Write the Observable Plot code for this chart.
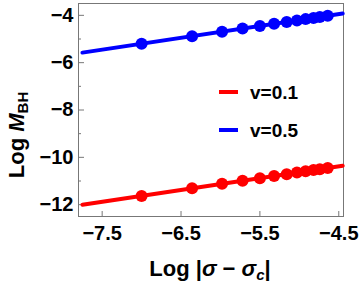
<!DOCTYPE html>
<html>
<head>
<meta charset="utf-8">
<script src="https://cdn.jsdelivr.net/npm/d3@7"></script>
<script src="https://cdn.jsdelivr.net/npm/@observablehq/plot@0.6"></script>
<style>
  html, body { margin: 0; padding: 0; background: #fff; }
  svg { font-family: "Liberation Sans", Arial, sans-serif; }
</style>
</head>
<body>
<div id="chart"></div>
<script>
// Data
const xVals = [-7.0, -6.36, -5.98, -5.72, -5.50, -5.32, -5.16, -5.03, -4.92, -4.82, -4.74, -4.64];
const yV01 = [-11.63, -11.31, -11.12, -10.99, -10.88, -10.79, -10.71, -10.645, -10.59, -10.54, -10.50, -10.45];
const yV05 = [-5.20, -4.88, -4.69, -4.56, -4.45, -4.36, -4.28, -4.215, -4.16, -4.11, -4.07, -4.02];
const fitX = [-7.75, -4.45];
const fitV01 = [-12.005, -10.355];
const fitV05 = [-5.575, -3.925];
const seriesNames = ["v=0.1", "v=0.5"];
const seriesColors = ["#ff0000", "#0000ff"];
const xTicks = [-7.5, -6.5, -5.5, -4.5];
const yTicks = [-12, -10, -8, -6, -4];
const yMinorTicks = [-11, -9, -7, -5];

const points = [
  ...xVals.map((x, i) => ({x, y: yV01[i], s: seriesNames[0]})),
  ...xVals.map((x, i) => ({x, y: yV05[i], s: seriesNames[1]}))
];
const fits = [
  ...fitX.map((x, i) => ({x, y: fitV01[i], s: seriesNames[0]})),
  ...fitX.map((x, i) => ({x, y: fitV05[i], s: seriesNames[1]}))
];

const fmt = d => (d < 0 ? "\u2212" : "") + Math.abs(d);

const chart = Plot.plot({
  width: 360,
  height: 285,
  marginLeft: 78,
  marginRight: 17,
  marginTop: 3,
  marginBottom: 69,
  style: {fontFamily: "'Liberation Sans', Arial, sans-serif", background: "#fff"},
  x: {domain: [-7.8, -4.44]},
  y: {domain: [-12.5, -3.5]},
  color: {domain: seriesNames, range: seriesColors},
  marks: [
    Plot.frame({stroke: "#777", strokeWidth: 1}),
    Plot.axisX({ticks: xTicks, tickSize: -5, tickPadding: 14, tickFormat: fmt, fontSize: 20, fontWeight: "bold", label: null, stroke: "#777", color: "#000"}),
    Plot.axisY({ticks: yTicks, tickSize: -6, tickPadding: 11, tickFormat: fmt, fontSize: 20, fontWeight: "bold", label: null, stroke: "#777", color: "#000"}),
    Plot.axisY({ticks: yMinorTicks, tickSize: -3, tickFormat: () => "", label: null, stroke: "#777"}),
    Plot.line(fits, {x: "x", y: "y", z: "s", stroke: "s", strokeWidth: 4}),
    Plot.dot(points, {x: "x", y: "y", fill: "s", r: 6})
  ]
});
document.getElementById("chart").appendChild(chart);

const svg = d3.select(chart);
// x axis title
const xt = svg.append("text")
  .attr("x", 210).attr("y", 276)
  .attr("text-anchor", "middle")
  .attr("font-size", 22).attr("font-weight", "bold")
  .attr("font-family", "'Liberation Sans', Arial, sans-serif")
  .attr("fill", "#000");
xt.append("tspan").text("Log |");
xt.append("tspan").attr("font-style", "italic").text("\u03C3");
xt.append("tspan").text(" \u2212 ");
xt.append("tspan").attr("font-style", "italic").text("\u03C3");
xt.append("tspan").attr("font-style", "italic").attr("font-size", 15).attr("dy", 4).text("c");
xt.append("tspan").attr("dy", -4).text("|");

// y axis title
const yt = svg.append("text")
  .attr("transform", "translate(24,135) rotate(-90)")
  .attr("text-anchor", "middle")
  .attr("font-size", 22).attr("font-weight", "bold")
  .attr("font-family", "'Liberation Sans', Arial, sans-serif")
  .attr("fill", "#000");
yt.append("tspan").text("Log ");
yt.append("tspan").attr("font-style", "italic").text("M");
yt.append("tspan").attr("font-size", 15).attr("dy", 4).text("BH");

// legend
seriesNames.forEach((name, i) => {
  const y = 92 + i * 38;
  svg.append("line").attr("x1", 219).attr("x2", 238).attr("y1", y).attr("y2", y)
    .attr("stroke", seriesColors[i]).attr("stroke-width", 4);
  svg.append("text").attr("x", 250).attr("y", y + 7)
    .attr("text-anchor", "start")
    .attr("font-size", 19).attr("font-weight", "bold")
    .attr("font-family", "'Liberation Sans', Arial, sans-serif")
    .attr("fill", "#000").text(name);
});
</script>
</body>
</html>
